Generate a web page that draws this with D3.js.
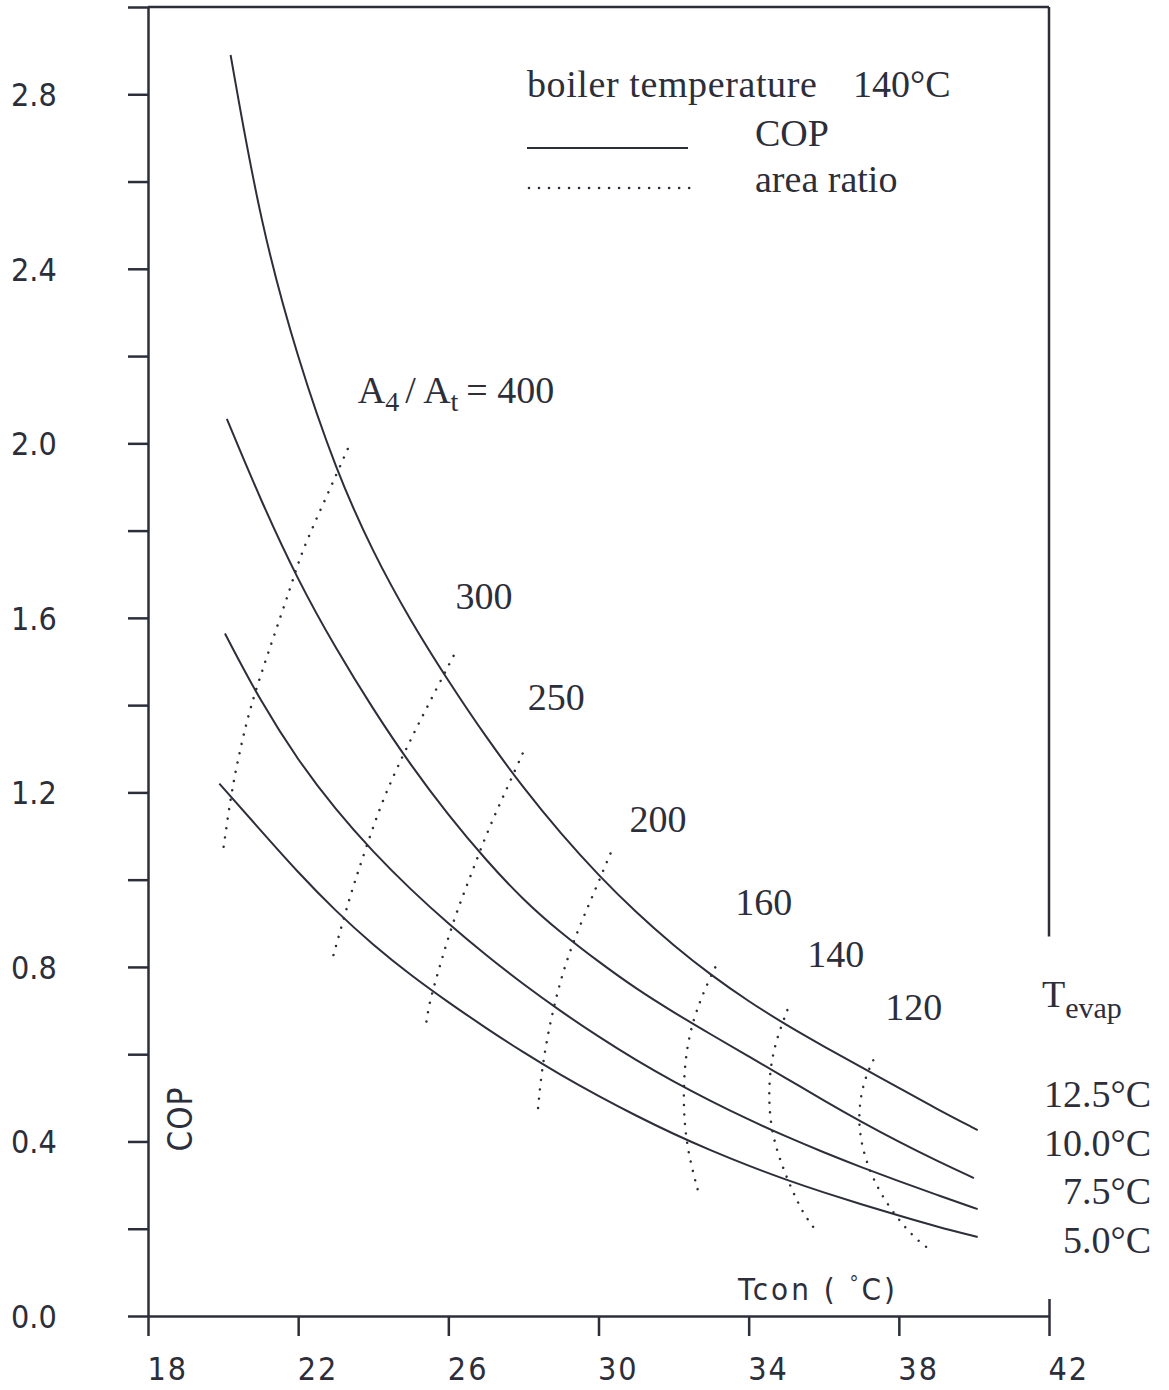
<!DOCTYPE html>
<html>
<head>
<meta charset="utf-8">
<script src="https://cdn.jsdelivr.net/npm/d3@7"></script>
<style>
  body { margin: 0; background: #fff; }
  svg { display: block; }
</style>
</head>
<body>
<div id="chart"></div>
<script>
// COP curves, one per evaporator temperature
var tevapLabels = ['12.5°C', '10.0°C', '7.5°C', '5.0°C'];

var tcon125 = [20.2, 21, 22, 23, 24, 25, 26, 27, 28, 29, 30, 31, 32, 33, 34, 35, 36, 37, 38, 39, 40.1];
var cop125 = [2.89, 2.50, 2.19, 1.94, 1.748, 1.592, 1.455, 1.327, 1.210, 1.105, 1.010, 0.925, 0.849, 0.781, 0.721, 0.667, 0.618, 0.570, 0.523, 0.475, 0.426];

var tcon100 = [20.1, 21, 22, 23, 24, 25, 26, 27, 28, 29, 30, 31, 32, 33, 34, 35, 36, 37, 38, 39, 40];
var cop100 = [2.056, 1.87, 1.685, 1.53, 1.39, 1.262, 1.148, 1.045, 0.953, 0.878, 0.812, 0.750, 0.696, 0.645, 0.595, 0.545, 0.494, 0.445, 0.399, 0.356, 0.316];

var tcon75 = [20.05, 21, 22, 23, 24, 25, 26, 27, 28, 29, 30, 31, 32, 33, 34, 35, 36, 37, 38, 39, 40.1];
var cop75 = [1.564, 1.408, 1.273, 1.160, 1.063, 0.977, 0.899, 0.827, 0.760, 0.698, 0.640, 0.586, 0.537, 0.492, 0.450, 0.411, 0.375, 0.341, 0.309, 0.278, 0.245];

var tcon50 = [19.9, 21, 22, 23, 24, 25, 26, 27, 28, 29, 30, 31, 32, 33, 34, 35, 36, 37, 38, 39, 40.1];
var cop50 = [1.22, 1.113, 1.016, 0.928, 0.850, 0.781, 0.719, 0.660, 0.604, 0.552, 0.504, 0.459, 0.417, 0.379, 0.344, 0.312, 0.283, 0.256, 0.230, 0.205, 0.181];

// area ratio lines A4/At (dotted), top end first
var ratioLabels = ['400', '300', '250', '200', '160', '140', '120'];
var ratioT = [
  [23.32, 22.74, 22.07, 21.86, 21.19, 20.69, 20.39, 20.21, 20.00],
  [26.14, 25.34, 24.81, 24.20, 23.67, 23.40, 22.90],
  [27.98, 27.58, 27.05, 26.60, 26.14, 25.74, 25.48, 25.40],
  [30.32, 29.79, 29.26, 28.86, 28.51, 28.38],
  [33.11, 32.69, 32.34, 32.24, 32.34, 32.66],
  [35.03, 34.66, 34.52, 34.58, 34.90, 35.19, 35.45, 35.72],
  [37.32, 37.03, 36.89, 37.11, 37.58, 38.38, 38.92]
];
var ratioCop = [
  [1.987, 1.875, 1.747, 1.685, 1.518, 1.387, 1.273, 1.193, 1.067],
  [1.513, 1.380, 1.289, 1.174, 1.037, 0.968, 0.815],
  [1.289, 1.213, 1.113, 1.010, 0.909, 0.792, 0.714, 0.664],
  [1.060, 0.952, 0.845, 0.733, 0.586, 0.467],
  [0.799, 0.723, 0.625, 0.501, 0.387, 0.284],
  [0.701, 0.616, 0.529, 0.426, 0.341, 0.282, 0.236, 0.204],
  [0.586, 0.533, 0.442, 0.353, 0.266, 0.179, 0.147]
];

var xTicks = [18, 22, 26, 30, 34, 38, 42];
var yTicks = d3.range(0, 3.01, 0.2);
var yLabels = [0, 0.4, 0.8, 1.2, 1.6, 2.0, 2.4, 2.8];

var ink = '#2c2e3a';
var sansFont = "'Liberation Sans Narrow', 'DejaVu Sans Condensed', 'Liberation Sans', sans-serif";
var serifFont = "'Liberation Serif', 'Times New Roman', serif";

var width = 1169, height = 1390;

var xScale = d3.scaleLinear().domain([18, 42]).range([148, 1049]);
var yScale = d3.scaleLinear().domain([0, 3.0]).range([1316, 7]);

var svg = d3.select('#chart').append('svg')
  .attr('width', width)
  .attr('height', height)
  .style('background', '#fff');

// y axis
var yAxis = svg.append('g')
  .attr('transform', 'translate(' + xScale(18) + ',0)')
  .call(d3.axisLeft(yScale).tickValues(yTicks).tickSize(20).tickSizeOuter(0)
    .tickFormat(function(d) {
      var hit = yLabels.some(function(v) { return Math.abs(v - d) < 1e-6; });
      return hit ? d3.format('.1f')(d) : '';
    }));
yAxis.select('.domain').attr('stroke', ink).attr('stroke-width', 2.5);
yAxis.selectAll('.tick line').attr('stroke', ink).attr('stroke-width', 2.5);
yAxis.selectAll('.tick text')
  .attr('text-anchor', 'start')
  .attr('x', -137)
  .attr('dy', '0.36em')
  .style('font-family', sansFont)
  .style('font-size', '32px')
  .attr('fill', ink);

// x axis
var xAxis = svg.append('g')
  .attr('transform', 'translate(0,' + yScale(0) + ')')
  .call(d3.axisBottom(xScale).tickValues(xTicks).tickSize(20).tickSizeOuter(0)
    .tickFormat(d3.format('d')));
xAxis.select('.domain').attr('stroke', ink).attr('stroke-width', 2.5);
xAxis.selectAll('.tick line').attr('stroke', ink).attr('stroke-width', 2.5)
  .attr('y1', function(d) { return d === 42 ? -17 : 0; });
xAxis.selectAll('.tick text')
  .attr('text-anchor', 'start')
  .attr('x', -1)
  .attr('y', 64)
  .attr('dy', 0)
  .style('font-family', sansFont)
  .style('font-size', '32px')
  .style('letter-spacing', '2px')
  .attr('fill', ink);

// top border and partial right border
svg.append('line')
  .attr('x1', xScale(18)).attr('x2', xScale(42))
  .attr('y1', yScale(3.0)).attr('y2', yScale(3.0))
  .attr('stroke', ink).attr('stroke-width', 2.5);
svg.append('line')
  .attr('x1', xScale(42)).attr('x2', xScale(42))
  .attr('y1', yScale(3.0)).attr('y2', yScale(0.87))
  .attr('stroke', ink).attr('stroke-width', 2.5);

// COP curves
var curves = [
  { t: tcon125, c: cop125 },
  { t: tcon100, c: cop100 },
  { t: tcon75, c: cop75 },
  { t: tcon50, c: cop50 }
];

var line = d3.line()
  .x(function(d) { return xScale(d[0]); })
  .y(function(d) { return yScale(d[1]); })
  .curve(d3.curveBasis);

svg.append('g').selectAll('path').data(curves)
  .enter().append('path')
    .attr('d', function(s) { return line(d3.zip(s.t, s.c)); })
    .attr('fill', 'none')
    .attr('stroke', ink)
    .attr('stroke-width', 2);

// area ratio lines
var dotLine = d3.line()
  .x(function(d) { return xScale(d[0]); })
  .y(function(d) { return yScale(d[1]); })
  .curve(d3.curveBasis);

svg.append('g').selectAll('path').data(ratioT)
  .enter().append('path')
    .attr('d', function(t, i) { return dotLine(d3.zip(t, ratioCop[i])); })
    .attr('fill', 'none')
    .attr('stroke', ink)
    .attr('stroke-width', 2.5)
    .attr('stroke-linecap', 'round')
    .attr('stroke-dasharray', '0.01 9.5');

// ratio labels, offset from the top end of each dotted line
var labelShift = [[10, -46], [2, -47], [5, -44], [19, -21], [20, -52], [20, -43], [12, -40]];
var ratioText = svg.append('g')
  .style('font-family', serifFont)
  .style('font-size', '38px')
  .attr('fill', ink);

ratioLabels.forEach(function(lab, i) {
  var tx = xScale(ratioT[i][0]) + labelShift[i][0];
  var ty = yScale(ratioCop[i][0]) + labelShift[i][1];
  var txt = ratioText.append('text').attr('x', tx).attr('y', ty)
    .attr('xml:space', 'preserve');
  if (i === 0) {
    txt.append('tspan').text('A');
    txt.append('tspan').attr('dy', 8).style('font-size', '28px').text('4');
    txt.append('tspan').attr('dy', -8).attr('dx', 6).text('/ A');
    txt.append('tspan').attr('dy', 8).style('font-size', '28px').text('t');
    txt.append('tspan').attr('dy', -8).attr('dx', 8).text('= ' + lab);
  } else {
    txt.text(lab);
  }
});

// Tevap labels at the right
var evap = svg.append('text')
  .attr('x', 1042).attr('y', 1007)
  .style('font-family', serifFont)
  .style('font-size', '38px')
  .attr('fill', ink);
evap.append('tspan').text('T');
evap.append('tspan').attr('dy', 11).style('font-size', '30px').text('evap');

svg.append('g').selectAll('text').data(tevapLabels)
  .enter().append('text')
    .attr('x', 1151)
    .attr('y', function(d, i) { return 1107 + i * 48.5; })
    .attr('text-anchor', 'end')
    .style('font-family', serifFont)
    .style('font-size', '38px')
    .attr('fill', ink)
    .text(function(d) { return d; });

// legend
var legend = svg.append('g')
  .style('font-family', serifFont)
  .style('font-size', '38px')
  .attr('fill', ink);
legend.append('text').attr('x', 527).attr('y', 97)
  .style('letter-spacing', '0.6px').text('boiler temperature');
legend.append('text').attr('x', 853).attr('y', 97).text('140°C');
legend.append('line')
  .attr('x1', 527).attr('x2', 688).attr('y1', 148).attr('y2', 148)
  .attr('stroke', ink).attr('stroke-width', 2);
legend.append('text').attr('x', 755).attr('y', 146).text('COP');
legend.append('line')
  .attr('x1', 529).attr('x2', 690).attr('y1', 188).attr('y2', 188)
  .attr('stroke', ink).attr('stroke-width', 2.6)
  .attr('stroke-linecap', 'round')
  .attr('stroke-dasharray', '0.01 10');
legend.append('text').attr('x', 755).attr('y', 192).text('area ratio');

// axis titles
svg.append('text')
  .attr('transform', 'translate(192,1119) rotate(-90)')
  .attr('text-anchor', 'middle')
  .style('font-family', sansFont)
  .style('font-size', '33px')
  .style('letter-spacing', '1px')
  .attr('fill', ink)
  .text('COP');

var tcon = svg.append('text')
  .attr('x', 738).attr('y', 1300)
  .style('font-family', sansFont)
  .style('font-size', '31px')
  .style('letter-spacing', '3px')
  .attr('fill', ink);
tcon.append('tspan').text('Tcon ( ');
tcon.append('tspan').attr('dy', -10).style('font-size', '20px').text('°');
tcon.append('tspan').attr('dy', 10).text('C)');
</script>
</body>
</html>
